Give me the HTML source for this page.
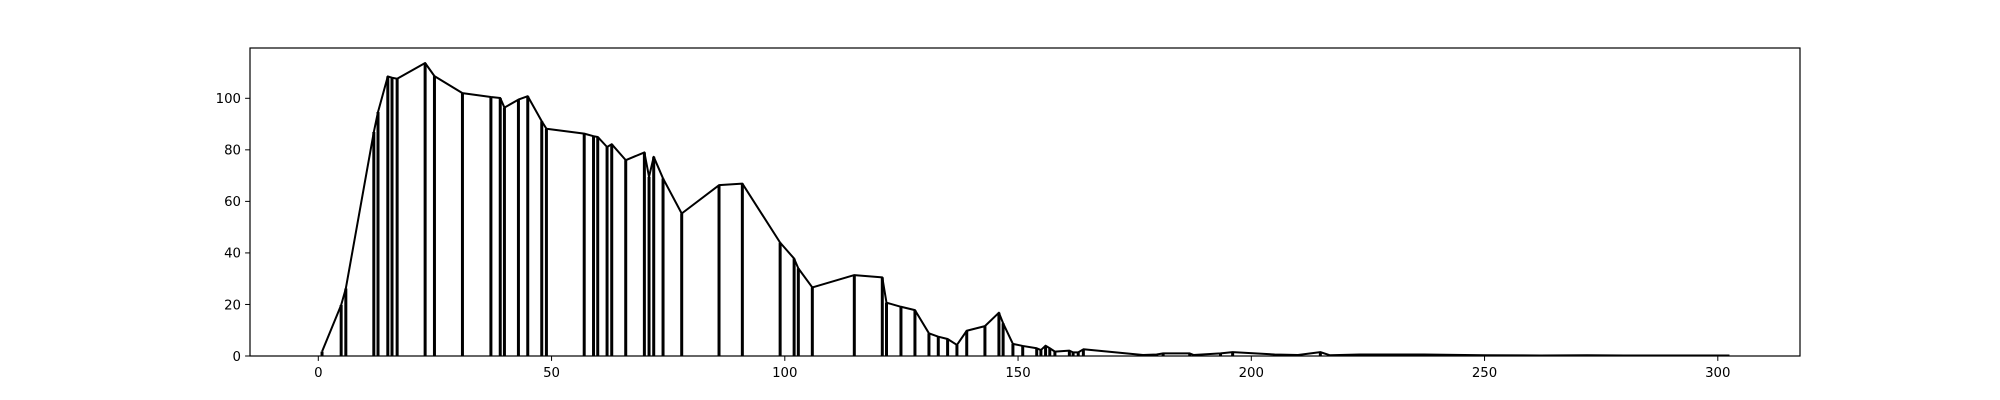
<!DOCTYPE html>
<html><head><meta charset="utf-8"><style>
html,body{margin:0;padding:0;background:#fff;}
svg{display:block;font-family:"DejaVu Sans","Liberation Sans",sans-serif;}
</style></head><body>
<svg id="chart" width="2000" height="400" viewBox="0 0 2000 400" xmlns="http://www.w3.org/2000/svg">
<rect width="2000" height="400" fill="#fff"/>
<g id="marks"></g>
<g id="axes"></g>
<rect x="250" y="48" width="1550" height="308" fill="none" stroke="#000" stroke-width="1.2"/>
</svg>
<script>
const xs = [0.8,4.9,5.9,11.9,12.8,14.9,15.8,16.9,22.9,24.9,30.9,37,39,39.9,42.9,44.9,47.9,48.9,57,59,59.9,61.9,62.9,65.9,69.9,70.9,71.9,73.9,77.9,85.9,90.9,99,102,102.9,105.9,114.9,120.9,121.8,124.9,127.9,130.9,132.9,134.9,136.9,139,142.9,145.9,146.8,148.9,151,154,154.9,155.9,156.8,157.9,161,161.8,162.9,164,176.8,179.7,181.1,186.8,187.6,193.4,196,205,210,214.8,216.8,223.2,237,250,262,272,280,290,302.5];
const ys = [1.7,19.8,26.2,86.9,94.7,108.5,108,107.6,113.7,108.6,102,100.5,100.1,96.4,99.5,100.8,91.1,88.2,86.3,85.3,85,81.1,82.2,76,79,69.5,77.3,68.9,55.3,66.3,66.9,44,37.8,34,26.6,31.4,30.5,20.7,19.1,17.8,8.8,7.5,6.6,4.3,9.8,11.6,16.8,12.7,4.7,3.9,3,2.3,4,3,1.7,2.1,1.4,1.4,2.6,0.4,0.6,1,1,0.4,1,1.5,0.6,0.4,1.5,0.3,0.6,0.6,0.3,0.2,0.3,0.2,0.2,0.2];
const xTicks = [0,50,100,150,200,250,300];
const yTicks = [0,20,40,60,80,100];
const NS = "http://www.w3.org/2000/svg";
const X = v => 318.3 + v*4.665;
const Y = v => 356 - v*2.577;
const marks = document.getElementById('marks');
const axes = document.getElementById('axes');
xs.forEach((x,i)=>{
  const l = document.createElementNS(NS,'line');
  l.setAttribute('x1',X(x));l.setAttribute('x2',X(x));
  l.setAttribute('y1',Y(0));l.setAttribute('y2',Y(ys[i]));
  l.setAttribute('stroke','#000');l.setAttribute('stroke-width','3');
  
  
  marks.appendChild(l);
});
const pl = document.createElementNS(NS,'polyline');
pl.setAttribute('points', xs.map((x,i)=>X(x)+','+Y(ys[i])).join(' '));
pl.setAttribute('fill','none');pl.setAttribute('stroke','#000');pl.setAttribute('stroke-width','2');
pl.setAttribute('stroke-linejoin','round');


marks.appendChild(pl);
xTicks.forEach(t=>{
  const l=document.createElementNS(NS,'line');
  l.setAttribute('x1',X(t));l.setAttribute('x2',X(t));l.setAttribute('y1',356);l.setAttribute('y2',360.9);
  l.setAttribute('stroke','#000');l.setAttribute('stroke-width','1');
  
  
  axes.appendChild(l);
  const tx=document.createElementNS(NS,'text');
  tx.setAttribute('x',X(t));tx.setAttribute('y',377);tx.setAttribute('text-anchor','middle');
  tx.setAttribute('font-size','13.3');tx.textContent=t;
  
  
  axes.appendChild(tx);
});
yTicks.forEach(t=>{
  const l=document.createElementNS(NS,'line');
  l.setAttribute('x1',245.1);l.setAttribute('x2',250);l.setAttribute('y1',Y(t));l.setAttribute('y2',Y(t));
  l.setAttribute('stroke','#000');l.setAttribute('stroke-width','1');
  
  
  axes.appendChild(l);
  const tx=document.createElementNS(NS,'text');
  tx.setAttribute('x',241);tx.setAttribute('y',Y(t)+4.8);tx.setAttribute('text-anchor','end');
  tx.setAttribute('font-size','13.3');tx.textContent=t;
  
  
  axes.appendChild(tx);
});
</script>
</body></html>
